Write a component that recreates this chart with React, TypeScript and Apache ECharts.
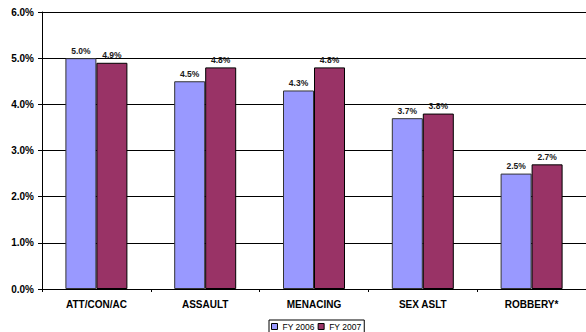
import React, { useEffect, useRef } from "react";
import * as echarts from "echarts";

const categories = ["ATT/CON/AC", "ASSAULT", "MENACING", "SEX ASLT", "ROBBERY*"];
const fy2006 = [5.0, 4.5, 4.3, 3.7, 2.5];
const fy2007 = [4.9, 4.8, 4.8, 3.8, 2.7];
const seriesNames = ["FY 2006", "FY 2007"];

const FONT = "'Liberation Sans', Arial, sans-serif";

export default function App() {
  const ref = useRef<HTMLDivElement>(null);

  useEffect(() => {
    if (!ref.current) return;
    document.body.style.margin = "0";
    const chart = echarts.init(ref.current, null, { renderer: "svg" });

    const label = {
      show: true,
      position: "top" as const,
      distance: 3,
      fontFamily: FONT,
      fontWeight: "bold" as const,
      fontSize: 8.5,
      color: "#1a1a1a",
      formatter: (p: any) => `${Number(p.value).toFixed(1)}%`,
    };

    chart.setOption({
      animation: false,
      backgroundColor: "#ffffff",
      grid: { left: 42, right: -2, top: 12, bottom: 43, containLabel: false },
      legend: {
        data: seriesNames,
        left: 269,
        top: 320,
        orient: "horizontal",
        itemWidth: 6,
        itemHeight: 6,
        itemGap: 3,
        padding: [2, 3, 3, 2],
        borderColor: "#000",
        borderWidth: 1,
        borderRadius: 0,
        icon: "rect",
        itemStyle: { borderColor: "#000", borderWidth: 1 },
        textStyle: { fontFamily: FONT, fontSize: 8.5, color: "#000" },
      },
      xAxis: {
        type: "category",
        data: categories,
        axisLine: { lineStyle: { color: "#000", width: 1 } },
        axisTick: { show: true, length: 3, lineStyle: { color: "#000" } },
        axisLabel: {
          fontFamily: FONT,
          fontWeight: "bold",
          fontSize: 10,
          color: "#000",
          margin: 10,
        },
      },
      yAxis: {
        type: "value",
        min: 0,
        max: 6,
        interval: 1,
        axisLine: { show: true, lineStyle: { color: "#000", width: 1 } },
        axisTick: { show: true, length: 4, lineStyle: { color: "#000" } },
        splitLine: { show: true, lineStyle: { color: "#000", width: 1 } },
        axisLabel: {
          fontFamily: FONT,
          fontWeight: "bold",
          fontSize: 10,
          color: "#000",
          margin: 8,
          formatter: (v: number) => `${v.toFixed(1)}%`,
        },
      },
      series: [
        {
          name: seriesNames[0],
          type: "bar",
          data: fy2006,
          barWidth: 31,
          barGap: "0%",
          itemStyle: { color: "#9999FF", borderColor: "#333", borderWidth: 1 },
          label,
        },
        {
          name: seriesNames[1],
          type: "bar",
          data: fy2007,
          barWidth: 31,
          barGap: "0%",
          itemStyle: { color: "#993366", borderColor: "#000", borderWidth: 1 },
          label,
        },
      ],
    });

    return () => chart.dispose();
  }, []);

  return <div ref={ref} style={{ width: 586, height: 332 }} />;
}
